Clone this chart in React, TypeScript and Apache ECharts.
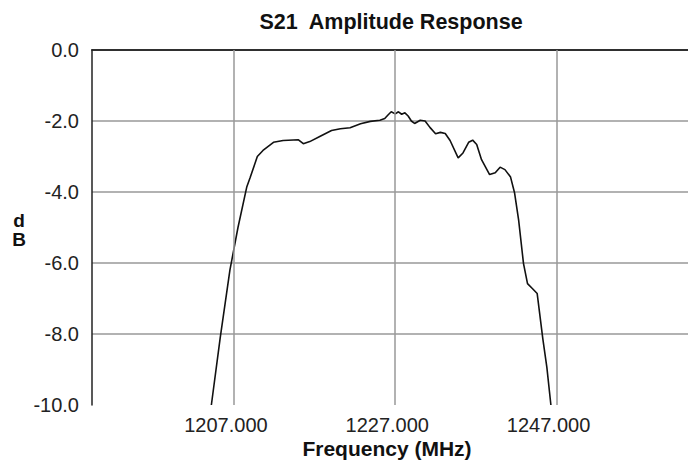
import React, { useEffect, useRef } from "react";
import * as echarts from "echarts";

const TITLE = "S21  Amplitude Response";
const X_NAME = "Frequency (MHz)";
const Y_NAME = "d\nB";
const X_TICKS = [1207, 1227, 1247];
const FREQ = [
  1204.2, 1205.3, 1206.5, 1207.5, 1208.6, 1209.0, 1209.9, 1210.6, 1211.9, 1213.1,
  1215.0, 1215.6, 1216.4, 1217.7, 1219.1, 1220.2, 1221.4, 1222.7, 1223.9, 1225.1,
  1225.7, 1226.1, 1226.5, 1227.0, 1227.4, 1227.8, 1228.2, 1228.6, 1229.0, 1229.4,
  1230.1, 1230.7, 1231.3, 1232.0, 1232.6, 1233.2, 1233.8, 1234.8, 1235.4, 1236.1,
  1236.6, 1237.1, 1237.7, 1238.7, 1239.4, 1240.0, 1240.6, 1241.3, 1241.8, 1242.3,
  1242.9, 1243.4, 1244.0, 1244.6, 1245.3, 1245.8, 1246.3,
];
const DB = [
  -10, -8.1, -6.2, -5.0, -3.85, -3.6, -3.0, -2.83, -2.6, -2.55,
  -2.53, -2.64, -2.58, -2.43, -2.27, -2.22, -2.19, -2.08, -2.01, -1.98,
  -1.93, -1.83, -1.74, -1.8, -1.74, -1.81, -1.77, -1.86, -2.0, -2.07,
  -1.98, -2.0, -2.18, -2.36, -2.32, -2.35, -2.55, -3.04, -2.9, -2.6,
  -2.54, -2.66, -3.09, -3.51, -3.46, -3.3, -3.37, -3.58, -4.03, -4.79,
  -6.01, -6.58, -6.72, -6.86, -8.14, -8.94, -10,
];

const FONT = "'Liberation Sans', Arial, sans-serif";
const X_MIN = 1189.4;
const X_MAX = 1263.3;

export default function App() {
  const ref = useRef<HTMLDivElement>(null);
  useEffect(() => {
    if (!ref.current) return;
    const chart = echarts.init(ref.current, undefined, { renderer: "svg" });
    const data = FREQ.map((f, i) => [f, DB[i]]);
    chart.setOption({
      animation: false,
      backgroundColor: "#ffffff",
      title: {
        text: TITLE,
        left: 386,
        top: 6,
        textAlign: "center",
        textStyle: { fontSize: 21.5, fontWeight: "bold", fontFamily: FONT, color: "#111" },
      },
      grid: {
        left: 92,
        top: 50,
        right: 0,
        bottom: 63,
        show: false,
      },
      xAxis: [
        {
          type: "value",
          min: X_MIN,
          max: X_MAX,
          axisLine: { show: true, lineStyle: { color: "#222", width: 1.5 } },
          axisTick: { show: false },
          splitLine: { show: false },
          axisLabel: {
            customValues: X_TICKS,
            formatter: (v: number) => v.toFixed(3),
            fontSize: 20,
            fontFamily: FONT,
            color: "#222",
            margin: 10,
            padding: [0, 16, 0, 0],
          },
        },
        {
          type: "value",
          position: "top",
          min: X_MIN,
          max: X_MAX,
          axisLine: { show: true, lineStyle: { color: "#222", width: 1.5 } },
          axisTick: { show: false },
          splitLine: { show: false },
          axisLabel: { show: false },
        },
      ],
      yAxis: {
        type: "value",
        min: -10,
        max: 0,
        interval: 2,
        axisLine: { show: true, lineStyle: { color: "#222", width: 1.5 } },
        axisTick: { show: false },
        splitLine: {
          show: true,
          showMinLine: false,
          showMaxLine: false,
          lineStyle: { color: "#999", width: 1.5 },
        },
        axisLabel: {
          formatter: (v: number) => v.toFixed(1),
          fontSize: 20,
          fontFamily: FONT,
          color: "#222",
          margin: 13,
        },
      },
      graphic: [
        {
          type: "text",
          x: 387,
          y: 448,
          style: {
            text: X_NAME,
            font: `bold 21px ${FONT}`,
            fill: "#111",
            textAlign: "center",
            textVerticalAlign: "middle",
          },
        },
        {
          type: "text",
          x: 19,
          y: 230,
          style: {
            text: Y_NAME,
            font: `bold 19px ${FONT}`,
            lineHeight: 19,
            fill: "#111",
            textAlign: "center",
            textVerticalAlign: "middle",
          },
        },
      ],
      series: [
        {
          type: "line",
          data: [],
          z: 1,
          silent: true,
          markLine: {
            silent: true,
            symbol: ["none", "none"],
            label: { show: false },
            lineStyle: { color: "#999", width: 1.5, type: "solid" },
            data: X_TICKS.map((t) => ({ xAxis: t })),
          },
        },
        {
          type: "line",
          data,
          z: 3,
          showSymbol: false,
          symbol: "none",
          lineStyle: { color: "#111", width: 1.6 },
          clip: true,
        },
      ],
    });
    return () => chart.dispose();
  }, []);
  return (
    <div
      ref={ref}
      style={{ position: "absolute", left: 0, top: 0, width: 688, height: 468 }}
    />
  );
}
